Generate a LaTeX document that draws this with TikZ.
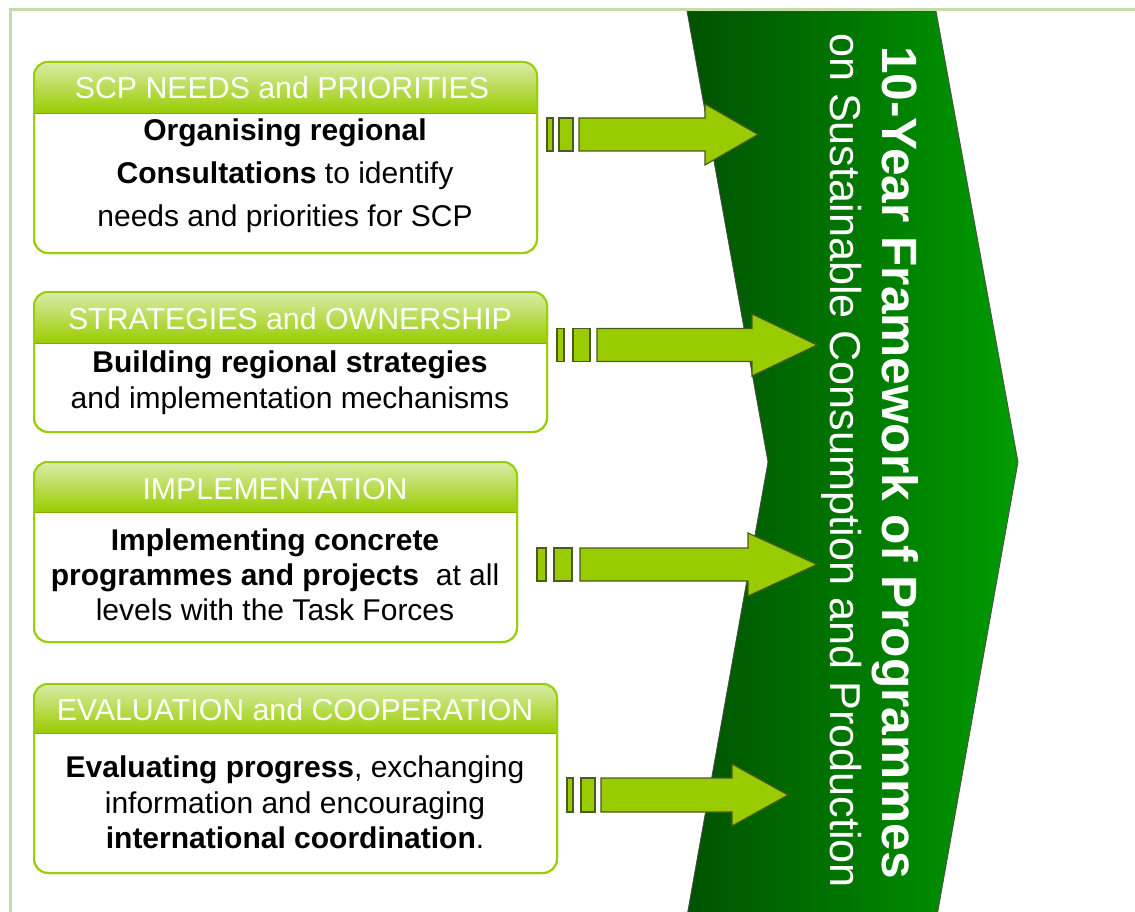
\documentclass[tikz,border=0pt]{standalone}
\usepackage{fontspec}
\setmainfont{Liberation Sans}
\definecolor{frameg}{HTML}{C5DCA6}
\definecolor{boxg}{HTML}{9ACD0A}
\definecolor{headtop}{HTML}{D8EDA8}
\definecolor{headbot}{HTML}{99CC00}
\definecolor{arrowg}{HTML}{99CC00}
\definecolor{arrowline}{HTML}{4A5A20}
\definecolor{chevL}{HTML}{005200}
\definecolor{chevR}{HTML}{009C00}
\begin{document}
\begin{tikzpicture}[x=1pt,y=-1pt,
  box/.style={draw=boxg, line width=2pt, rounded corners=14pt, fill=white, inner sep=0pt, outer sep=0pt},
  border/.style={draw=boxg, line width=2pt, rounded corners=14pt},
  headtext/.style={text=white, font=\fontsize{30.3}{34}\selectfont, inner sep=0pt},
  bodytext/.style={font=\fontsize{30}{35.5}\selectfont, align=center, inner sep=0pt},
  barrow/.style={fill=arrowg, draw=arrowline, line width=1.2pt, line join=miter},
  chevtext/.style={rotate=-90, anchor=base, text=white, inner sep=0pt}]
\useasboundingbox (0,0) rectangle (1135,912);
\fill[white] (0,0) rectangle (1135,912);

% chevron
\path[left color=chevL, right color=chevR, draw=black!70, line width=0.8pt]
  (687,11) -- (936,11) -- (1018,462) -- (937,916) -- (687,916) -- (768,462) -- cycle;
\node[chevtext, font=\fontsize{49.6}{50}\selectfont\bfseries] (t1) at (882,462.5) {10-Year Framework of Programmes};
\node[chevtext, font=\fontsize{43.2}{44}\selectfont] (t2) at (830,460.5) {on Sustainable Consumption and Production};

% frame
\draw[frameg, line width=3pt] (10,925) -- (10,9.5) -- (1145,9.5);

% box 1
\node[box, minimum width=503pt, minimum height=191pt] (b1) at (285.5,157.5) {};
\begin{scope}
  \clip[rounded corners=14pt] (b1.north west) rectangle (b1.south east);
  \shade[top color=headtop, bottom color=headbot] (b1.north west) rectangle ([yshift=-51pt]b1.north east);
\end{scope}
\draw[headbot!85!black, line width=0.8pt] ([yshift=-51pt]b1.north west) -- ([yshift=-51pt]b1.north east);
\draw[border] (b1.north west) rectangle (b1.south east);
\node[headtext] (h1) at (282,88) {SCP NEEDS and PRIORITIES};
\node[bodytext, font=\fontsize{30}{43}\selectfont] (x1) at (285,175.5)
  {\textbf{Organising regional}\\\textbf{Consultations} to identify\\needs and priorities for SCP};

% box 2
\node[box, minimum width=513pt, minimum height=140pt] (b2) at (290.5,362) {};
\begin{scope}
  \clip[rounded corners=14pt] (b2.north west) rectangle (b2.south east);
  \shade[top color=headtop, bottom color=headbot] (b2.north west) rectangle ([yshift=-51pt]b2.north east);
\end{scope}
\draw[headbot!85!black, line width=0.8pt] ([yshift=-51pt]b2.north west) -- ([yshift=-51pt]b2.north east);
\draw[border] (b2.north west) rectangle (b2.south east);
\node[headtext] (h2) at (290,319) {STRATEGIES and OWNERSHIP};
\node[bodytext, font=\fontsize{30}{36}\selectfont] (x2) at (290,383)
  {\textbf{Building regional strategies}\\and implementation mechanisms};

% box 3
\node[box, minimum width=483pt, minimum height=180pt] (b3) at (275.5,552) {};
\begin{scope}
  \clip[rounded corners=14pt] (b3.north west) rectangle (b3.south east);
  \shade[top color=headtop, bottom color=headbot] (b3.north west) rectangle ([yshift=-50pt]b3.north east);
\end{scope}
\draw[headbot!85!black, line width=0.8pt] ([yshift=-50pt]b3.north west) -- ([yshift=-50pt]b3.north east);
\draw[border] (b3.north west) rectangle (b3.south east);
\node[headtext] (h3) at (275,489) {IMPLEMENTATION};
\node[bodytext, font=\fontsize{30}{35}\selectfont] (x3) at (275,575)
  {\textbf{Implementing concrete}\\\textbf{programmes and projects}\ \ at all\\levels with the Task Forces};

% box 4
\node[box, minimum width=523pt, minimum height=189pt] (b4) at (295.5,778.5) {};
\begin{scope}
  \clip[rounded corners=14pt] (b4.north west) rectangle (b4.south east);
  \shade[top color=headtop, bottom color=headbot] (b4.north west) rectangle ([yshift=-49pt]b4.north east);
\end{scope}
\draw[headbot!85!black, line width=0.8pt] ([yshift=-49pt]b4.north west) -- ([yshift=-49pt]b4.north east);
\draw[border] (b4.north west) rectangle (b4.south east);
\node[headtext] (h4) at (295,710) {EVALUATION and COOPERATION};
\node[bodytext, font=\fontsize{30}{35.5}\selectfont] (x4) at (295,802.5)
  {\textbf{Evaluating progress}, exchanging\\information and encouraging\\\textbf{international coordination}.};

% arrow 1
\draw[barrow] (547,118) rectangle (553,151);
\draw[barrow] (559,118) rectangle (573,151);
\draw[barrow] (579,118) -- (705,118) -- (705,104) -- (758,134.5) -- (705,165) -- (705,151) -- (579,151) -- cycle;
% arrow 2
\draw[barrow] (557,328.5) rectangle (564,361.5);
\draw[barrow] (573,328.5) rectangle (590,361.5);
\draw[barrow] (597,328.5) -- (752,328.5) -- (752,314) -- (817,345) -- (752,376) -- (752,361.5) -- (597,361.5) -- cycle;
% arrow 3
\draw[barrow] (537,548) rectangle (546,581);
\draw[barrow] (554,548) rectangle (572,581);
\draw[barrow] (580,548) -- (748,548) -- (748,533) -- (817,564.5) -- (748,596) -- (748,581) -- (580,581) -- cycle;
% arrow 4
\draw[barrow] (567,778) rectangle (573,812);
\draw[barrow] (581,778) rectangle (595,812);
\draw[barrow] (601,778) -- (732,778) -- (732,764) -- (788,795) -- (732,826) -- (732,812) -- (601,812) -- cycle;
\end{tikzpicture}
\end{document}
